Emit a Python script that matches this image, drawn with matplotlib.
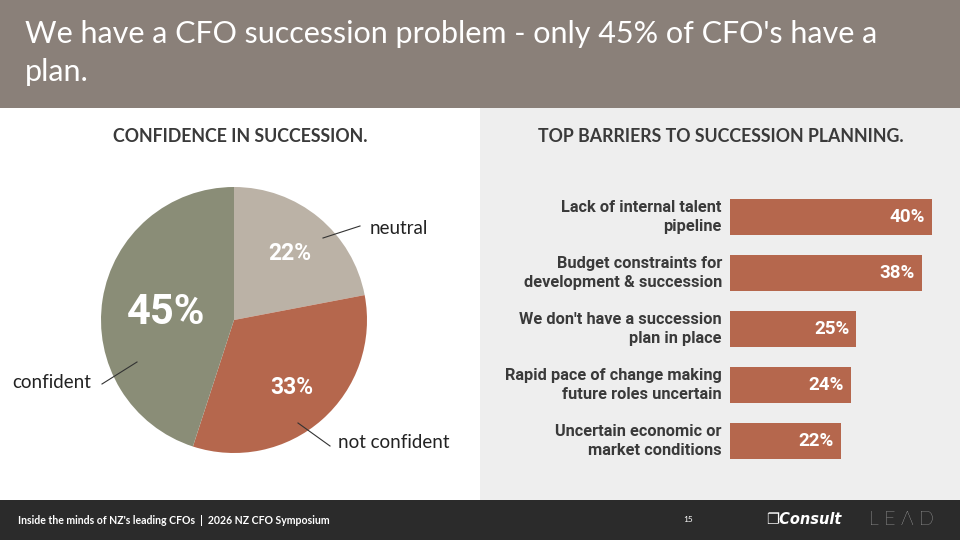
import matplotlib
matplotlib.use('Agg')
import matplotlib.pyplot as plt
from matplotlib.patches import Rectangle

# Data
pie_labels = ['neutral', 'not confident', 'confident']
pie_values = [22, 33, 45]
pie_colors = ['#BBB2A6', '#B5674D', '#8A8D77']

barriers = ['Lack of internal talent\npipeline',
            'Budget constraints for\ndevelopment & succession',
            "We don't have a succession\nplan in place",
            'Rapid pace of change making\nfuture roles uncertain',
            'Uncertain economic or\nmarket conditions']
barrier_values = [40, 38, 25, 24, 22]

W, H = 960, 540
fig = plt.figure(figsize=(9.6, 5.4), dpi=100)
fig.patch.set_facecolor('white')

def px_axes(x0, y0, w, h, z=0):
    # pixel box (top-left origin) -> figure axes
    ax = fig.add_axes([x0 / W, 1 - (y0 + h) / H, w / W, h / H])
    ax.set_zorder(z)
    return ax

# Background blocks
bg = px_axes(0, 0, W, H, z=0)
bg.set_xlim(0, W)
bg.set_ylim(H, 0)
bg.axis('off')
bg.add_patch(Rectangle((0, 0), W, 108, color='#8A8079', lw=0))
bg.add_patch(Rectangle((480, 108), 480, 392, color='#EEEEEE', lw=0))
bg.add_patch(Rectangle((0, 500), W, 40, color='#2B2B2B', lw=0))

# Pie chart
pax = px_axes(101, 187, 266, 266, z=1)
pax.pie(pie_values, colors=pie_colors, startangle=90, counterclock=False,
        radius=1, wedgeprops=dict(linewidth=0))
pax.set_xlim(-1, 1)
pax.set_ylim(-1, 1)
pax.set_aspect('equal')
pax.axis('off')

# Overlay for all text
top = px_axes(0, 0, W, H, z=3)
top.set_xlim(0, W)
top.set_ylim(H, 0)
top.axis('off')
top.patch.set_alpha(0)

top.text(25, 34, "We have a CFO succession problem - only 45% of CFO's have a",
         color='white', fontsize=22, family='Lato', va='center', ha='left')
top.text(25, 72, "plan.", color='white', fontsize=22, family='Lato', va='center', ha='left')

top.text(240, 136, 'CONFIDENCE IN SUCCESSION.', color='#3A3A3A', fontsize=12.8,
         family='Lato', weight='bold', ha='center', va='center')
top.text(721, 136, 'TOP BARRIERS TO SUCCESSION PLANNING.', color='#3A3A3A', fontsize=12.8,
         family='Lato', weight='bold', ha='center', va='center')

# Footer
top.text(18, 520, "Inside the minds of NZ's leading CFOs  |  2026 NZ CFO Symposium",
         color='white', fontsize=7.6, family='Lato', weight='bold', va='center')
top.text(688, 520, '15', color='white', fontsize=6, family='Lato', va='center', ha='center')
top.text(766, 520, '\u2750Consult', color='white', fontsize=10.5, family='DejaVu Sans',
         weight='bold', style='italic', va='center')
top.text(869, 520, 'L E \u039b D', color='white', fontsize=14, family='Lato',
         weight='light', va='center')

# Percent labels inside the pie
top.text(290, 254, f'{pie_values[0]}%', color='white', fontsize=16.5, family='Roboto',
         weight='bold', ha='center', va='center')
top.text(292, 387, f'{pie_values[1]}%', color='white', fontsize=16.5, family='Roboto',
         weight='bold', ha='center', va='center')
top.text(166, 313, f'{pie_values[2]}%', color='white', fontsize=30, family='Roboto',
         weight='bold', ha='center', va='center')

# Leader lines and outside labels
top.plot([323, 360], [238, 226], color='#333333', lw=0.8)
top.text(370, 228, pie_labels[0], color='#222222', fontsize=13.5, family='Lato', va='center')
top.plot([298, 330], [423, 446], color='#333333', lw=0.8)
top.text(338, 443, pie_labels[1], color='#222222', fontsize=13.5, family='Lato', va='center')
top.plot([102, 137], [384, 362], color='#333333', lw=0.8)
top.text(12, 382, pie_labels[2], color='#222222', fontsize=13.5, family='Lato', va='center')

# Bar chart
bax = px_axes(730, 189, 230, 280, z=2)
px_per_pct = 5.05
bax.set_xlim(0, 230 / px_per_pct)
bax.set_ylim(len(barriers) - 0.5, -0.5)
bax.axis('off')
ypos = list(range(len(barriers)))
bax.barh(ypos, barrier_values, height=0.64, color='#B5674D', linewidth=0)
for y, v, lab in zip(ypos, barrier_values, barriers):
    bax.text(v - 1.4, y, f'{v}%', color='white', fontsize=13.5, family='Roboto',
             weight='bold', ha='right', va='center')
    bax.text(-1.6, y, lab, color='#3A3A3A', fontsize=11.8, family='Roboto',
             weight='bold', ha='right', va='center', linespacing=1.35, clip_on=False)

fig.savefig('out.png', dpi=100, facecolor=fig.get_facecolor())
